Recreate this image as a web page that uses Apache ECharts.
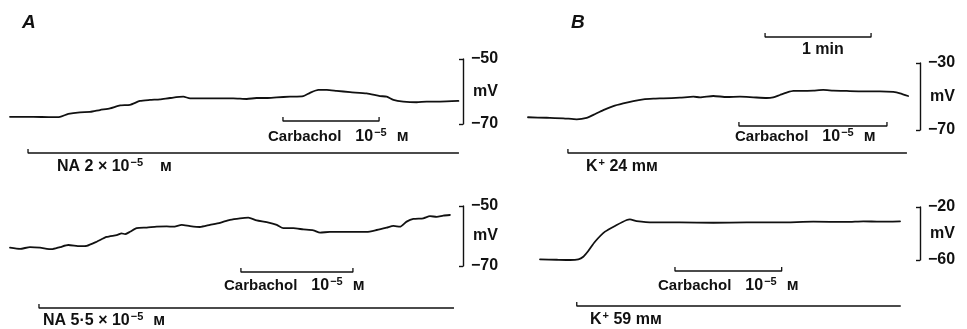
<!DOCTYPE html>
<html>
<head>
<meta charset="utf-8">
<script src="https://cdn.jsdelivr.net/npm/echarts@6/dist/echarts.min.js"></script>
<style>
html,body{margin:0;padding:0;background:#fff;}
#chart{width:967px;height:329px;}
</style>
</head>
<body>
<div id="chart"></div>
<script>
// ---- data: time (s) vs membrane potential (mV) ----
const traceA1 = [[0,-67.8],[13.2,-67.8],[22.6,-67.9],[28.3,-67.8],[33.0,-66.9],[39.6,-66.4],[45.3,-66.3],[50.9,-65.7],[56.6,-65.2],[62.3,-64.3],[67.9,-64.1],[73.6,-62.9],[79.2,-62.6],[84.9,-62.4],[90.6,-62.0],[98.1,-61.6],[101.9,-62.1],[107.5,-62.1],[117.0,-62.1],[126.4,-62.1],[134.0,-62.3],[139.6,-62.0],[145.3,-62.0],[151.0,-61.8],[158.5,-61.6],[166.0,-61.4],[169.8,-60.4],[174.5,-59.5],[179.3,-59.5],[184.9,-59.8],[192.5,-60.2],[201.9,-60.6],[209.4,-61.4],[213.2,-61.6],[217.0,-62.6],[222.6,-63.1],[230.2,-63.3],[235.8,-63.1],[243.4,-63.1],[253.8,-62.9]];
const traceA2 = [[0,-63.9],[5.7,-64.3],[11.3,-63.7],[17.0,-63.9],[23.6,-64.4],[28.3,-63.7],[33.0,-63.0],[39.6,-63.4],[43.4,-63.3],[49.1,-61.9],[54.7,-60.3],[60.4,-59.7],[63.2,-59.1],[65.1,-59.4],[67.9,-58.6],[71.7,-57.4],[77.4,-57.2],[83.0,-56.9],[88.7,-56.8],[92.4,-56.9],[97.2,-56.3],[101.9,-56.7],[107.5,-57.0],[113.2,-56.3],[118.9,-55.6],[124.5,-54.6],[130.2,-54.1],[134.9,-53.9],[139.6,-54.8],[145.3,-55.4],[151.0,-56.3],[154.7,-57.4],[160.4,-57.4],[166.0,-57.8],[171.7,-58.1],[175.5,-58.9],[181.1,-58.6],[186.8,-58.6],[194.3,-58.6],[201.9,-58.6],[207.5,-58.0],[213.2,-57.2],[217.0,-56.6],[220.7,-56.9],[224.5,-55.2],[228.3,-54.3],[233.9,-54.1],[237.7,-53.4],[241.5,-53.6],[245.2,-53.2],[249.0,-53.0]];
const traceB1 = [[0,-62.4],[10.6,-62.7],[20.0,-63.0],[27.6,-63.6],[33.2,-62.8],[37.0,-61.0],[42.6,-58.1],[48.3,-55.7],[53.9,-54.1],[59.6,-52.7],[65.3,-51.7],[70.9,-51.3],[76.6,-51.1],[86.0,-50.7],[93.6,-50.1],[97.4,-50.5],[104.9,-49.7],[112.5,-50.3],[120.0,-50.1],[127.5,-50.5],[135.1,-50.9],[138.8,-50.5],[142.6,-49.1],[146.4,-47.7],[150.2,-46.7],[155.8,-46.7],[161.5,-46.5],[167.1,-46.1],[172.8,-46.5],[180.4,-46.7],[189.8,-46.9],[199.2,-46.9],[206.8,-47.3],[210.6,-48.1],[215.2,-49.7]];
const traceB2 = [[6.8,-59.5],[16.2,-59.8],[23.8,-60.0],[28.5,-59.5],[31.3,-57.5],[34.1,-53.2],[37.9,-46.2],[43.6,-38.6],[50.2,-33.6],[55.9,-29.8],[57.7,-29.3],[61.5,-30.6],[70.9,-31.6],[86.0,-31.6],[104.9,-31.9],[123.8,-31.6],[142.6,-31.6],[161.5,-31.1],[180.4,-31.3],[189.8,-30.8],[199.2,-31.1],[210.6,-30.8]];

// drug application periods (s): [start, end]
const carbacholA1 = [154.5, 208.9];
const naA1 = [10.2, 254.1];
const carbacholA2 = [130.7, 194.1];
const naA2 = [16.4, 251.3];
const carbacholB1 = [119.4, 203.2];
const kB1 = [22.6, 214.5];
const carbacholB2 = [83.2, 143.6];
const kB2 = [27.6, 211.0];
const timeScaleBar = [134.2, 194.2]; // 1 min

// voltage scale ranges (mV)
const scaleA1 = [-70, -50];
const scaleA2 = [-70, -50];
const scaleB1 = [-70, -30];
const scaleB2 = [-60, -20];

// ---- layout ----
const FONT = '"Liberation Sans", Arial, Helvetica, sans-serif';
const INK = '#111111';
const panelA = {left: 10, width: 453, tMax: 256.4};
const panelB = {left: 528, width: 392, tMax: 221.9};

const grids = [], xAxes = [], yAxes = [], series = [];

function addTrace(panel, top, height, data, range) {
  const gi = grids.length;
  grids.push({left: panel.left, width: panel.width, top: top, height: height, outerBoundsMode: 'none', containLabel: false});
  xAxes.push({gridIndex: gi, type: 'value', min: 0, max: panel.tMax, show: false});
  yAxes.push({
    gridIndex: gi, type: 'value', position: 'right',
    min: range[0], max: range[1], interval: range[1] - range[0],
    axisLine: {show: true, onZero: false, lineStyle: {color: INK, width: 1.4}},
    axisTick: {show: true, inside: true, length: 4, lineStyle: {color: INK, width: 1.4}},
    splitLine: {show: false},
    axisLabel: {show: true, margin: 8, color: INK, fontFamily: FONT, fontSize: 16, fontWeight: 'bold',
      formatter: v => String(v).replace('-', '\u2212')},
    name: 'mV', nameLocation: 'middle', nameRotate: 0, nameGap: 10, nameMoveOverlap: false,
    nameTextStyle: {color: INK, fontFamily: FONT, fontSize: 16, fontWeight: 'bold', align: 'left', verticalAlign: 'middle'}
  });
  series.push({
    type: 'line', xAxisIndex: gi, yAxisIndex: gi, data: data,
    symbol: 'none', smooth: 0.2, animation: false,
    lineStyle: {color: INK, width: 1.8, join: 'round', cap: 'round'}
  });
}

function addBar(panel, lineY, range, bothEnds) {
  const gi = grids.length;
  const tick = 4;
  grids.push({left: panel.left, width: panel.width, top: lineY - tick, height: tick, outerBoundsMode: 'none', containLabel: false});
  xAxes.push({gridIndex: gi, type: 'value', min: 0, max: panel.tMax, show: false});
  yAxes.push({gridIndex: gi, type: 'value', min: 0, max: 1, show: false});
  const d = [[range[0], 1], [range[0], 0], [range[1], 0]];
  if (bothEnds) d.push([range[1], 1]);
  series.push({
    type: 'line', xAxisIndex: gi, yAxisIndex: gi, data: d, clip: false,
    symbol: 'none', animation: false,
    lineStyle: {color: INK, width: 1.3}
  });
}

addTrace(panelA, 59, 65, traceA1, scaleA1);
addTrace(panelA, 206, 60, traceA2, scaleA2);
addTrace(panelB, 63, 67, traceB1, scaleB1);
addTrace(panelB, 207, 53, traceB2, scaleB2);

addBar(panelA, 121, carbacholA1, true);
addBar(panelA, 153, naA1, false);
addBar(panelA, 272, carbacholA2, true);
addBar(panelA, 308, naA2, false);
addBar(panelB, 126, carbacholB1, true);
addBar(panelB, 153, kB1, false);
addBar(panelB, 271, carbacholB2, true);
addBar(panelB, 306, kB2, false);
addBar(panelB, 37, timeScaleBar, true);

function st(size, pad) {
  const o = {fontFamily: FONT, fontSize: size, fontWeight: 'bold', fill: INK};
  if (pad) o.padding = pad;
  return o;
}
const rich = {
  n: st(15),
  b: st(16),
  d: st(16, [0, 0, 0, 14]),
  s: st(11, [0, 0, 9, 1]),
  m: st(16, [0, 0, 0, 10]),
  w: st(16, [0, 0, 0, 17])
};
function label(x, y, text) {
  return {type: 'text', left: x, top: y - 10,
    style: {text: text, rich: rich, fill: INK, font: 'bold 16px ' + FONT}};
}
function heading(x, y, t) {
  return {type: 'text', left: x, top: y - 10,
    style: {text: t, fill: INK, font: 'italic bold 19px ' + FONT}};
}

const carbText = '{n|Carbachol}{d|10}{s|\u22125}{m|\u043c}';
const graphics = [
  heading(22, 23, 'A'),
  heading(571, 23, 'B'),
  label(268, 137, carbText),
  label(57, 167, '{b|NA 2 \u00d7 10}{s|\u22125}{w|\u043c}'),
  label(224, 286, carbText),
  label(43, 321, '{b|NA 5\u00b75 \u00d7 10}{s|\u22125}{m|\u043c}'),
  label(802, 52, '{b|1 min}'),
  label(735, 137, carbText),
  label(586, 167, '{b|K}{s|+}{b| 24 m\u043c}'),
  label(658, 286, carbText),
  label(590, 320, '{b|K}{s|+}{b| 59 m\u043c}')
];

const chart = echarts.init(document.getElementById('chart'), null, {renderer: 'canvas'});
chart.setOption({
  backgroundColor: '#ffffff',
  animation: false,
  grid: grids, xAxis: xAxes, yAxis: yAxes, series: series,
  graphic: graphics
});
</script>
</body>
</html>
